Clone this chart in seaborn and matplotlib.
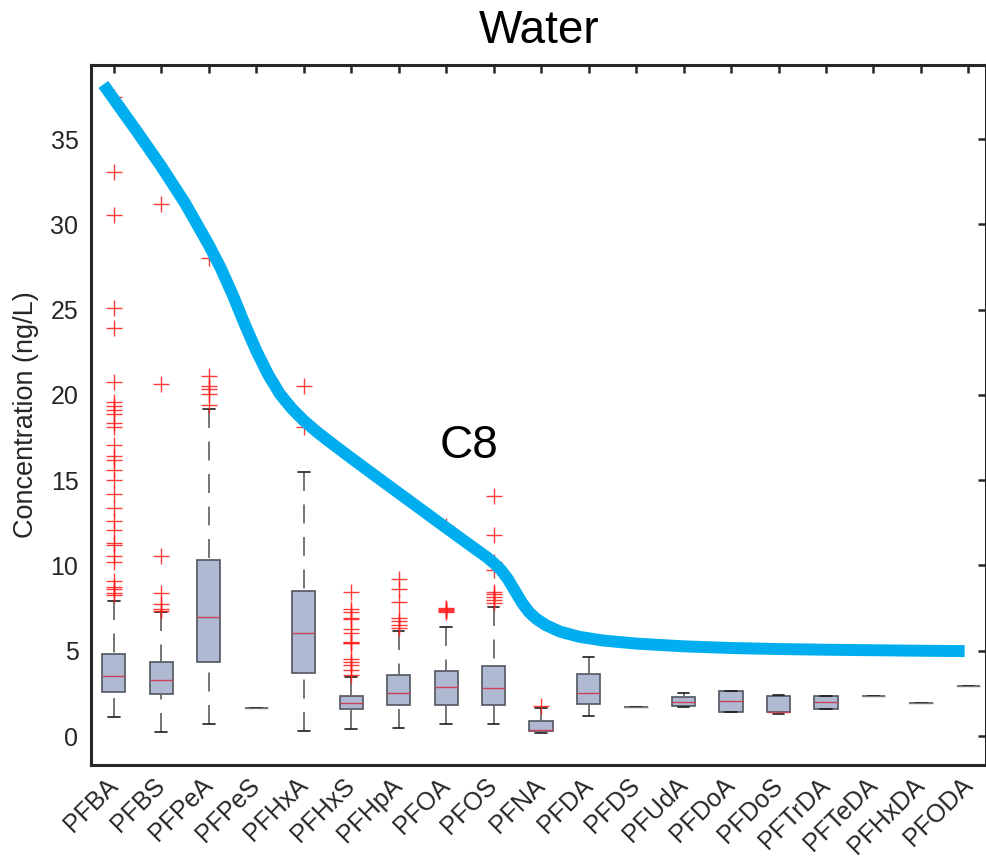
import numpy as np
import pandas as pd
import matplotlib
matplotlib.use("Agg")
import matplotlib.pyplot as plt
import matplotlib.colors as mcolors
import seaborn as sns

# ---------------- data ----------------
compounds = ["PFBA", "PFBS", "PFPeA", "PFPeS", "PFHxA", "PFHxS", "PFHpA", "PFOA",
             "PFOS", "PFNA", "PFDA", "PFDS", "PFUdA", "PFDoA", "PFDoS", "PFTrDA",
             "PFTeDA", "PFHxDA", "PFODA"]

whisker_low = [1.13, 0.23, 0.72, 1.66, 0.27, 0.43, 0.49, 0.70, 0.70, 0.20,
               1.19, 1.68, 1.70, 1.41, 1.27, 1.60, 2.35, 1.92, 2.94]
q1 = [2.61, 2.45, 4.36, 1.66, 3.70, 1.58, 1.80, 1.80, 1.82, 0.31,
      1.88, 1.68, 1.76, 1.41, 1.39, 1.60, 2.35, 1.92, 2.94]
median = [3.52, 3.26, 7.00, 1.66, 6.03, 1.95, 2.54, 2.86, 2.80, 0.35,
          2.54, 1.68, 2.01, 2.06, 1.43, 1.98, 2.35, 1.92, 2.94]
q3 = [4.81, 4.36, 10.30, 1.66, 8.49, 2.37, 3.56, 3.82, 4.13, 0.86,
      3.64, 1.68, 2.27, 2.66, 2.37, 2.37, 2.35, 1.92, 2.94]
whisker_high = [7.90, 7.26, 19.20, 1.66, 15.46, 3.45, 6.17, 6.42, 7.59, 1.64,
                4.64, 1.68, 2.52, 2.66, 2.40, 2.37, 2.35, 1.92, 2.94]

outliers_PFBA = [37.5, 33.1, 30.56, 25.08, 23.91, 20.75, 19.57, 19.38, 19.14, 18.89,
                 18.36, 18.12, 17.07, 16.44, 16.17, 15.62, 15.03, 14.21, 13.35, 12.61,
                 12.06, 11.31, 11.2, 10.53, 10.22, 9.08, 8.73, 8.61, 8.38, 8.26]
outliers_PFBS = [31.18, 20.67, 10.57, 8.38, 7.75, 7.42, 7.36]
outliers_PFPeA = [28.05, 21.1, 20.55, 20.36, 20.08, 19.42]
outliers_PFHxA = [20.53, 18.15]
outliers_PFHxS = [8.46, 7.43, 7.29, 6.94, 6.84, 6.26, 6.06, 5.53, 5.47, 5.45,
                  4.52, 4.36, 4.16, 3.87, 3.58]
outliers_PFHpA = [9.22, 8.65, 7.85, 6.9, 6.72, 6.5, 6.35]
outliers_PFOA = [12.3, 7.5, 7.45, 7.4, 7.35, 7.3]
outliers_PFOS = [14.05, 11.8, 10.2, 9.75, 8.47, 8.3, 8.18, 7.99, 7.79]
outliers_PFNA = [1.76]

outlier_groups = {
    "PFBA": outliers_PFBA, "PFBS": outliers_PFBS, "PFPeA": outliers_PFPeA,
    "PFHxA": outliers_PFHxA, "PFHxS": outliers_PFHxS, "PFHpA": outliers_PFHpA,
    "PFOA": outliers_PFOA, "PFOS": outliers_PFOS, "PFNA": outliers_PFNA,
}

# trend curve (x in category-index units, y in ng/L)
curve_x = [-0.22, 0.0, 0.5, 1.0, 1.5, 2.0, 2.25, 2.5, 2.75, 3.0, 3.25, 3.5,
           3.75, 4.0, 4.25, 4.5, 5.0, 5.5, 6.0, 6.5, 7.0, 7.5, 7.85, 8.0,
           8.15, 8.3, 8.45, 8.6, 8.75, 8.9, 9.1, 9.4, 9.8, 10.3, 11.0, 12.0,
           13.0, 14.0, 15.0, 16.0, 17.0, 17.92]
curve_y = [38.21, 37.35, 35.4, 33.4, 31.25, 28.8, 27.45, 25.9, 24.2, 22.6,
           21.2, 20.05, 19.2, 18.5, 17.9, 17.35, 16.3, 15.27, 14.25, 13.23,
           12.21, 11.2, 10.5, 10.15, 9.75, 9.2, 8.5, 7.8, 7.25, 6.87, 6.5,
           6.12, 5.82, 5.6, 5.42, 5.26, 5.16, 5.1, 5.06, 5.03, 5.0, 4.98]

title_text = "Water"
annotation_text = "C8"
annotation_pos = (7.48, 16.29)
y_label = "Concentration (ng/L)"
y_ticks = [0, 5, 10, 15, 20, 25, 30, 35]

# ---------------- build tables ----------------
box_df = pd.DataFrame({
    "compound": np.repeat(compounds, 5),
    "conc": np.column_stack([whisker_low, q1, median, q3, whisker_high]).ravel(),
})
out_df = pd.DataFrame(
    [(c, v) for c, vals in outlier_groups.items() for v in vals],
    columns=["compound", "conc"],
)

# ---------------- style ----------------
sns.set_style("white")
plt.rcParams["font.family"] = ["Liberation Sans", "DejaVu Sans"]

W, H = 987, 867
fig = plt.figure(figsize=(W / 100, H / 100), dpi=100)
ax_left, ax_right, ax_top, ax_bottom = 91, 986.5, 65, 765
ax = fig.add_axes([ax_left / W, (H - ax_bottom) / H,
                   (ax_right - ax_left) / W, (ax_bottom - ax_top) / H])

box_face = "#b0b9d2"
box_edge = "#50555f"
whisker_color = "#6a6a6a"
median_color = "#c8425a"

sns.boxplot(
    data=box_df, x="compound", y="conc", order=compounds, ax=ax,
    whis=(0, 100), width=0.49, showfliers=False, saturation=1,
    color=box_face, linecolor=box_edge, linewidth=1.2,
    boxprops=dict(facecolor=box_face, edgecolor=box_edge, zorder=2),
    whiskerprops=dict(color=whisker_color, linewidth=1.3,
                      linestyle=(0, (10.5, 7.5))),
    capprops=dict(color="#1e1e1e", linewidth=1.2),
    medianprops=dict(color=median_color, linewidth=1.0),
)

# dash pattern starts at the whisker cap; single-value boxes show as gray bars
flat = {i for i in range(len(compounds)) if q1[i] == q3[i]}
for ln in ax.lines:
    col = mcolors.to_hex(ln.get_color())
    xd, yd = (np.asarray(a, dtype=float) for a in ln.get_data())
    if col == whisker_color:
        ln.set_data(xd[::-1], yd[::-1])
    elif col == median_color and int(round(xd.mean())) in flat:
        ln.set_color("#7a7a7a")

sns.stripplot(
    data=out_df, x="compound", y="conc", order=compounds, ax=ax,
    jitter=False, marker="+", color="#ff1a1a", size=11, linewidth=1.0,
    alpha=0.85, zorder=3,
)

sns.lineplot(x=curve_x, y=curve_y, ax=ax, sort=False, color="#00aeef",
             linewidth=8.6, zorder=4, solid_capstyle="butt",
             solid_joinstyle="round")

ax.text(annotation_pos[0], annotation_pos[1], annotation_text, fontsize=33,
        ha="center", va="baseline", color="black", zorder=5)

# ---------------- axes ----------------
ax.set_xlim(-0.48, 18.38)
ax.set_ylim(-1.70, 39.35)
ax.set_yticks(y_ticks)
ax.set_xticks(range(len(compounds)))
ax.set_xticklabels(compounds, rotation=45, ha="right", va="center",
                   rotation_mode="anchor")
ax.set_xlabel("")
ax.set_ylabel(y_label, fontsize=19.5, color="#262626", labelpad=8)
ax.set_title(title_text, fontsize=33, pad=16, color="black")

ax.tick_params(axis="both", which="both", direction="in", top=True, right=True,
               length=6, width=1.8, color="#262626", labelcolor="#262626",
               labelsize=18)
ax.tick_params(axis="y", pad=9)
ax.tick_params(axis="x", pad=12)
for sp in ax.spines.values():
    sp.set_visible(True)
    sp.set_linewidth(2.2)
    sp.set_color("#262626")

fig.savefig("out.png", dpi=100)
